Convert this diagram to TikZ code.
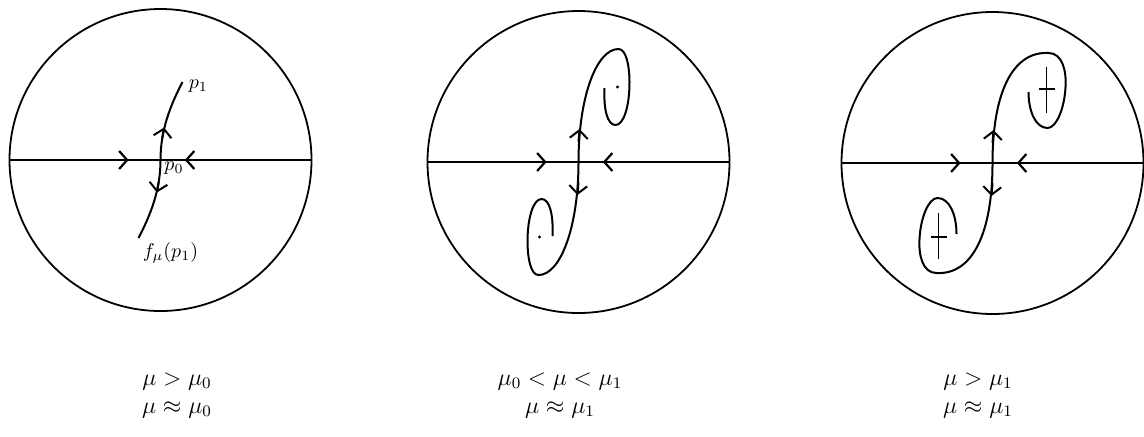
\documentclass[tikz,border=0pt]{standalone}
\usepackage{amsmath,amssymb}
\usetikzlibrary{arrows.meta,positioning,decorations.markings}

\begin{document}
\begin{tikzpicture}[
    x=0.5pt, y=-0.5pt,
    >={Straight Barb[length=4pt,width=9pt]},
    disk/.style={draw, circle, line width=0.9pt, minimum size=151pt, inner sep=0pt},
    axis/.style={line width=1.1pt, postaction={decorate}, decoration={markings,
        mark=at position 0.395 with {\arrow{>}},
        mark=at position 0.615 with {\arrow{<}}}},
    branch/.style={line width=1pt},
    outflow/.style={line width=1pt, ->},
    crossbar/.style={line width=0.9pt},
    ptlbl/.style={inner sep=1pt, font=\normalsize},
    lbl/.style={font=\large, align=center},
]
\useasboundingbox (0,0) rectangle (1144,436);

% Disks
\node[disk] (c1) at (160.5,160) {};
\node[disk] (c2) at (578.5,162) {};
\node[disk] (c3) at (992.5,163) {};

% Stable directions
\draw[axis] (c1.west) -- (c1.east);
\draw[axis] (c2.west) -- (c2.east);
\draw[axis] (c3.west) -- (c3.east);

% Left: short unstable branch
\begin{scope}[shift={(c1.center)}]
\foreach \r in {0,180} {
  \begin{scope}[rotate=\r]
    \draw[branch] (0,0) .. controls (0,-30) and (10,-55) .. (22,-78);
    \draw[outflow] (1.7,-21.6) -- (3.6,-32.5);
  \end{scope}
}
\coordinate (p1) at (22,-78);
\coordinate (fp1) at (-22,78);
\end{scope}
\node[ptlbl, right=2pt of p1, yshift=-2pt] (p1lbl) {$p_1$};
\node[ptlbl] (p0lbl) at (174,168) {$p_0$};
\node[ptlbl, below=1pt of fp1, xshift=16pt] (fp1lbl) {$f_\mu(p_1)$};

% Middle: branch curls round a point
\begin{scope}[shift={(c2.center)}]
\foreach \r in {0,180} {
  \begin{scope}[rotate=\r]
    \draw[branch] (0,0) .. controls (0,-65) and (18,-113) .. (40,-113)
        .. controls (48,-113) and (51,-95) .. (51,-80)
        .. controls (51,-55) and (45,-37) .. (37,-37)
        .. controls (29,-37) and (25,-52) .. (26,-74);
    \draw[outflow] (0,-20) -- (1,-33);
    \fill (39,-75) circle (0.8pt);
  \end{scope}
}
\end{scope}

% Right: branch curls round a cross
\begin{scope}[shift={(c3.center)}]
\foreach \r in {0,180} {
  \begin{scope}[rotate=\r]
    \draw[branch] (0,0) .. controls (0,-70) and (20,-112) .. (56,-110)
        .. controls (70,-110) and (74,-92) .. (73,-76)
        .. controls (72,-55) and (64,-35) .. (55,-35)
        .. controls (43,-35) and (36,-52) .. (36,-71);
    \draw[outflow] (0,-20) -- (1,-33);
    \draw[crossbar] (54,-50) -- (54,-96);
    \draw[crossbar] (46,-74) -- (62,-74);
  \end{scope}
}
\end{scope}

% Parameter ranges
\node[lbl] (m1) at (177,395) {$\mu > \mu_0$\\$\mu \approx \mu_0$};
\node[lbl] (m2) at (560,395) {$\mu_0 < \mu < \mu_1$\\$\mu \approx \mu_1$};
\node[lbl] (m3) at (978,395) {$\mu > \mu_1$\\$\mu \approx \mu_1$};
\end{tikzpicture}
\end{document}
